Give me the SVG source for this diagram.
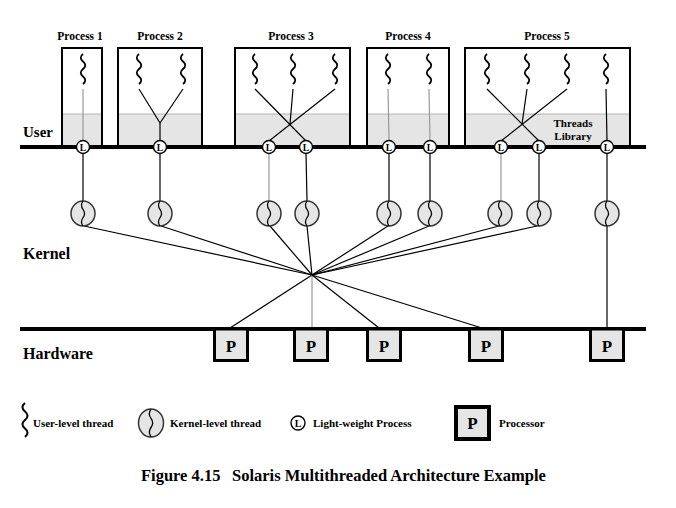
<svg xmlns="http://www.w3.org/2000/svg" width="676" height="508" viewBox="0 0 676 508">
<style>
text{font-family:"Liberation Serif","Times New Roman",serif;font-weight:bold;fill:#000}
.plabel{font-size:11.5px;text-anchor:middle}
.layer{font-size:16px}
.leg{font-size:11px}
.box{fill:none;stroke:#000;stroke-width:2}
.lib{fill:#e5e5e5}
.libtop{stroke:#b4b4b4;stroke-width:1}
.bar{stroke:#000;stroke-width:4}
.uth{fill:none;stroke:#000;stroke-width:1.8}
.kth{fill:#e5e5e5;stroke:#333;stroke-width:1.5}
.kin{fill:none;stroke:#000;stroke-width:1.2}
.lwp{fill:#fff;stroke:#000;stroke-width:1.4}
.lt{font-size:9.5px;text-anchor:middle}
.proc{fill:#e5e5e5;stroke:#000;stroke-width:3}
.pt{font-size:17px;text-anchor:middle}
.c{stroke:#000;stroke-width:1.2;fill:none}
.g{stroke:#999;stroke-width:1.2;fill:none}
</style>
<defs>
<path id="ut" d="M0,0 c-3,2.5 -3,5 0,7.5 c3,2.5 3,5 0,7.5 c-3,2.5 -3,5 0,7.5 c3,2.5 3,5 0,7.5"/>
<path id="kt" d="M0,-12.5 c-2.2,3 -2.2,5.3 0,8.3 c2.2,3 2.2,5.3 0,8.3 c-2.2,3 -2.2,5.3 0,8.4"/>
</defs>

<!-- process boxes -->
<g id="process1">
<rect class="lib" x="62" y="114" width="40" height="33"/>
<line class="libtop" x1="63" y1="114" x2="101" y2="114"/>
<rect class="box" x="62" y="48" width="40" height="99"/>
<text class="plabel" x="80" y="39.5">Process 1</text>
</g>
<g id="process2">
<rect class="lib" x="118" y="114" width="84" height="33"/>
<line class="libtop" x1="119" y1="114" x2="201" y2="114"/>
<rect class="box" x="118" y="48" width="84" height="99"/>
<text class="plabel" x="160" y="39.5">Process 2</text>
</g>
<g id="process3">
<rect class="lib" x="235" y="114" width="115" height="33"/>
<line class="libtop" x1="236" y1="114" x2="349" y2="114"/>
<rect class="box" x="235" y="48" width="115" height="99"/>
<text class="plabel" x="291" y="39.5">Process 3</text>
</g>
<g id="process4">
<rect class="lib" x="367" y="114" width="82" height="33"/>
<line class="libtop" x1="368" y1="114" x2="448" y2="114"/>
<rect class="box" x="367" y="48" width="82" height="99"/>
<text class="plabel" x="408" y="39.5">Process 4</text>
</g>
<g id="process5">
<rect class="lib" x="465" y="114" width="165" height="33"/>
<line class="libtop" x1="466" y1="114" x2="629" y2="114"/>
<rect class="box" x="465" y="48" width="165" height="99"/>
<text class="plabel" x="547" y="39.5">Process 5</text>
<text x="573" y="127" style="font-size:11px;text-anchor:middle">Threads</text>
<text x="573" y="139.5" style="font-size:11px;text-anchor:middle">Library</text>
</g>

<!-- user-level threads -->
<g id="user-threads">
<use href="#ut" class="uth" x="83" y="54"/>
<use href="#ut" class="uth" x="139" y="54"/>
<use href="#ut" class="uth" x="183" y="54"/>
<use href="#ut" class="uth" x="255" y="54"/>
<use href="#ut" class="uth" x="293" y="54"/>
<use href="#ut" class="uth" x="335" y="54"/>
<use href="#ut" class="uth" x="388" y="54"/>
<use href="#ut" class="uth" x="429" y="54"/>
<use href="#ut" class="uth" x="487" y="54"/>
<use href="#ut" class="uth" x="527" y="54"/>
<use href="#ut" class="uth" x="567" y="54"/>
<use href="#ut" class="uth" x="606" y="54"/>
</g>

<!-- connectors -->
<g id="connectors">
<line class="g" x1="83" y1="89" x2="83" y2="141"/>
<polyline class="c" points="139,89 160,123 183,89"/>
<line class="c" x1="160" y1="123" x2="160" y2="141"/>
<line class="c" x1="255" y1="89" x2="306" y2="141"/>
<line class="c" x1="335" y1="89" x2="269" y2="141"/>
<line class="c" x1="293" y1="89" x2="290" y2="124"/>
<line class="g" x1="388" y1="89" x2="389" y2="141"/>
<line class="g" x1="429" y1="89" x2="430" y2="141"/>
<line class="c" x1="487" y1="89" x2="539" y2="141"/>
<line class="c" x1="567" y1="89" x2="501" y2="141"/>
<line class="c" x1="527" y1="89" x2="522" y2="124"/>
<line class="c" x1="606" y1="89" x2="607" y2="141"/>
<line class="c" x1="83" y1="153" x2="83" y2="201"/>
<line class="c" x1="160" y1="153" x2="160" y2="201"/>
<line class="g" x1="269" y1="153" x2="269" y2="201"/>
<line class="c" x1="306" y1="153" x2="307" y2="201"/>
<line class="c" x1="389" y1="153" x2="389" y2="201"/>
<line class="c" x1="430" y1="153" x2="430" y2="201"/>
<line class="g" x1="501" y1="153" x2="501" y2="201"/>
<line class="c" x1="539" y1="153" x2="539" y2="201"/>
<line class="c" x1="607" y1="153" x2="607" y2="201"/>
<line class="c" x1="84" y1="226" x2="312" y2="275"/>
<line class="c" x1="161" y1="226" x2="312" y2="275"/>
<line class="c" x1="270" y1="226" x2="312" y2="275"/>
<line class="c" x1="307" y1="226" x2="312" y2="275"/>
<line class="c" x1="388" y1="226" x2="312" y2="275"/>
<line class="c" x1="429" y1="226" x2="312" y2="275"/>
<line class="c" x1="499" y1="226" x2="312" y2="275"/>
<line class="c" x1="537" y1="226" x2="312" y2="275"/>
<line class="c" x1="312" y1="275" x2="230" y2="328"/>
<line class="g" x1="312" y1="275" x2="312" y2="328"/>
<line class="c" x1="312" y1="275" x2="379" y2="328"/>
<line class="c" x1="312" y1="275" x2="482" y2="328"/>
<line class="c" x1="607" y1="226" x2="607" y2="328"/>
</g>

<!-- user / hardware bars -->
<g id="boundaries">
<line class="bar" x1="20" y1="147" x2="646" y2="147"/>
<line class="bar" x1="20" y1="329" x2="646" y2="329"/>
<text class="layer" x="23" y="137" style="font-size:15px">User</text>
<text class="layer" x="23" y="259">Kernel</text>
<text class="layer" x="23" y="359">Hardware</text>
</g>

<!-- LWPs -->
<g id="lwp1"><circle class="lwp" cx="83" cy="147" r="6.5"/><text class="lt" x="83" y="150.5">L</text></g>
<g id="lwp2"><circle class="lwp" cx="160" cy="147" r="6.5"/><text class="lt" x="160" y="150.5">L</text></g>
<g id="lwp3"><circle class="lwp" cx="269" cy="147" r="6.5"/><text class="lt" x="269" y="150.5">L</text></g>
<g id="lwp4"><circle class="lwp" cx="306" cy="147" r="6.5"/><text class="lt" x="306" y="150.5">L</text></g>
<g id="lwp5"><circle class="lwp" cx="389" cy="147" r="6.5"/><text class="lt" x="389" y="150.5">L</text></g>
<g id="lwp6"><circle class="lwp" cx="430" cy="147" r="6.5"/><text class="lt" x="430" y="150.5">L</text></g>
<g id="lwp7"><circle class="lwp" cx="501" cy="147" r="6.5"/><text class="lt" x="501" y="150.5">L</text></g>
<g id="lwp8"><circle class="lwp" cx="539" cy="147" r="6.5"/><text class="lt" x="539" y="150.5">L</text></g>
<g id="lwp9"><circle class="lwp" cx="607" cy="147" r="6.5"/><text class="lt" x="607" y="150.5">L</text></g>

<!-- kernel threads -->
<g id="kt1"><ellipse class="kth" cx="83" cy="213.5" rx="12" ry="12.5"/><use href="#kt" class="kin" x="83" y="213.5"/></g>
<g id="kt2"><ellipse class="kth" cx="160" cy="213.5" rx="12" ry="12.5"/><use href="#kt" class="kin" x="160" y="213.5"/></g>
<g id="kt3"><ellipse class="kth" cx="269" cy="213.5" rx="12" ry="12.5"/><use href="#kt" class="kin" x="269" y="213.5"/></g>
<g id="kt4"><ellipse class="kth" cx="307" cy="213.5" rx="12" ry="12.5"/><use href="#kt" class="kin" x="307" y="213.5"/></g>
<g id="kt5"><ellipse class="kth" cx="389" cy="213.5" rx="12" ry="12.5"/><use href="#kt" class="kin" x="389" y="213.5"/></g>
<g id="kt6"><ellipse class="kth" cx="430" cy="213.5" rx="12" ry="12.5"/><use href="#kt" class="kin" x="430" y="213.5"/></g>
<g id="kt7"><ellipse class="kth" cx="500" cy="213.5" rx="12" ry="12.5"/><use href="#kt" class="kin" x="500" y="213.5"/></g>
<g id="kt8"><ellipse class="kth" cx="539" cy="213.5" rx="12" ry="12.5"/><use href="#kt" class="kin" x="539" y="213.5"/></g>
<g id="kt9"><ellipse class="kth" cx="607" cy="213.5" rx="12" ry="12.5"/><use href="#kt" class="kin" x="607" y="213.5"/></g>

<!-- processors -->
<g id="cpu1"><rect class="proc" x="214.5" y="329" width="33" height="31.5"/><text class="pt" x="231" y="352">P</text></g>
<g id="cpu2"><rect class="proc" x="294.5" y="329" width="33" height="31.5"/><text class="pt" x="311" y="352">P</text></g>
<g id="cpu3"><rect class="proc" x="367.5" y="329" width="33" height="31.5"/><text class="pt" x="384" y="352">P</text></g>
<g id="cpu4"><rect class="proc" x="469.5" y="329" width="33" height="31.5"/><text class="pt" x="486" y="352">P</text></g>
<g id="cpu5"><rect class="proc" x="590.5" y="329" width="33" height="31.5"/><text class="pt" x="607" y="352">P</text></g>

<!-- legend -->
<g id="legend">
<use href="#ut" class="uth" transform="translate(25,403) scale(1.13)"/>
<text class="leg" x="33" y="427">User-level thread</text>
<ellipse class="kth" cx="151" cy="423" rx="12.5" ry="14"/>
<use href="#kt" class="kin" transform="translate(151,423) scale(1.1)"/>
<text class="leg" x="170" y="427">Kernel-level thread</text>
<circle class="lwp" cx="298" cy="423" r="7"/>
<text class="lt" x="298" y="426.5" style="font-size:10px">L</text>
<text class="leg" x="313" y="427">Light-weight Process</text>
<rect x="456" y="407" width="33" height="32" style="fill:#e5e5e5;stroke:#000;stroke-width:4"/>
<text class="pt" x="472.5" y="428.5">P</text>
<text class="leg" x="499" y="427">Processor</text>
</g>

<!-- caption -->
<g id="caption">
<text x="141" y="481" style="font-size:16.5px">Figure 4.15</text>
<text x="232" y="481" style="font-size:16.5px">Solaris Multithreaded Architecture Example</text>
</g>
</svg>
